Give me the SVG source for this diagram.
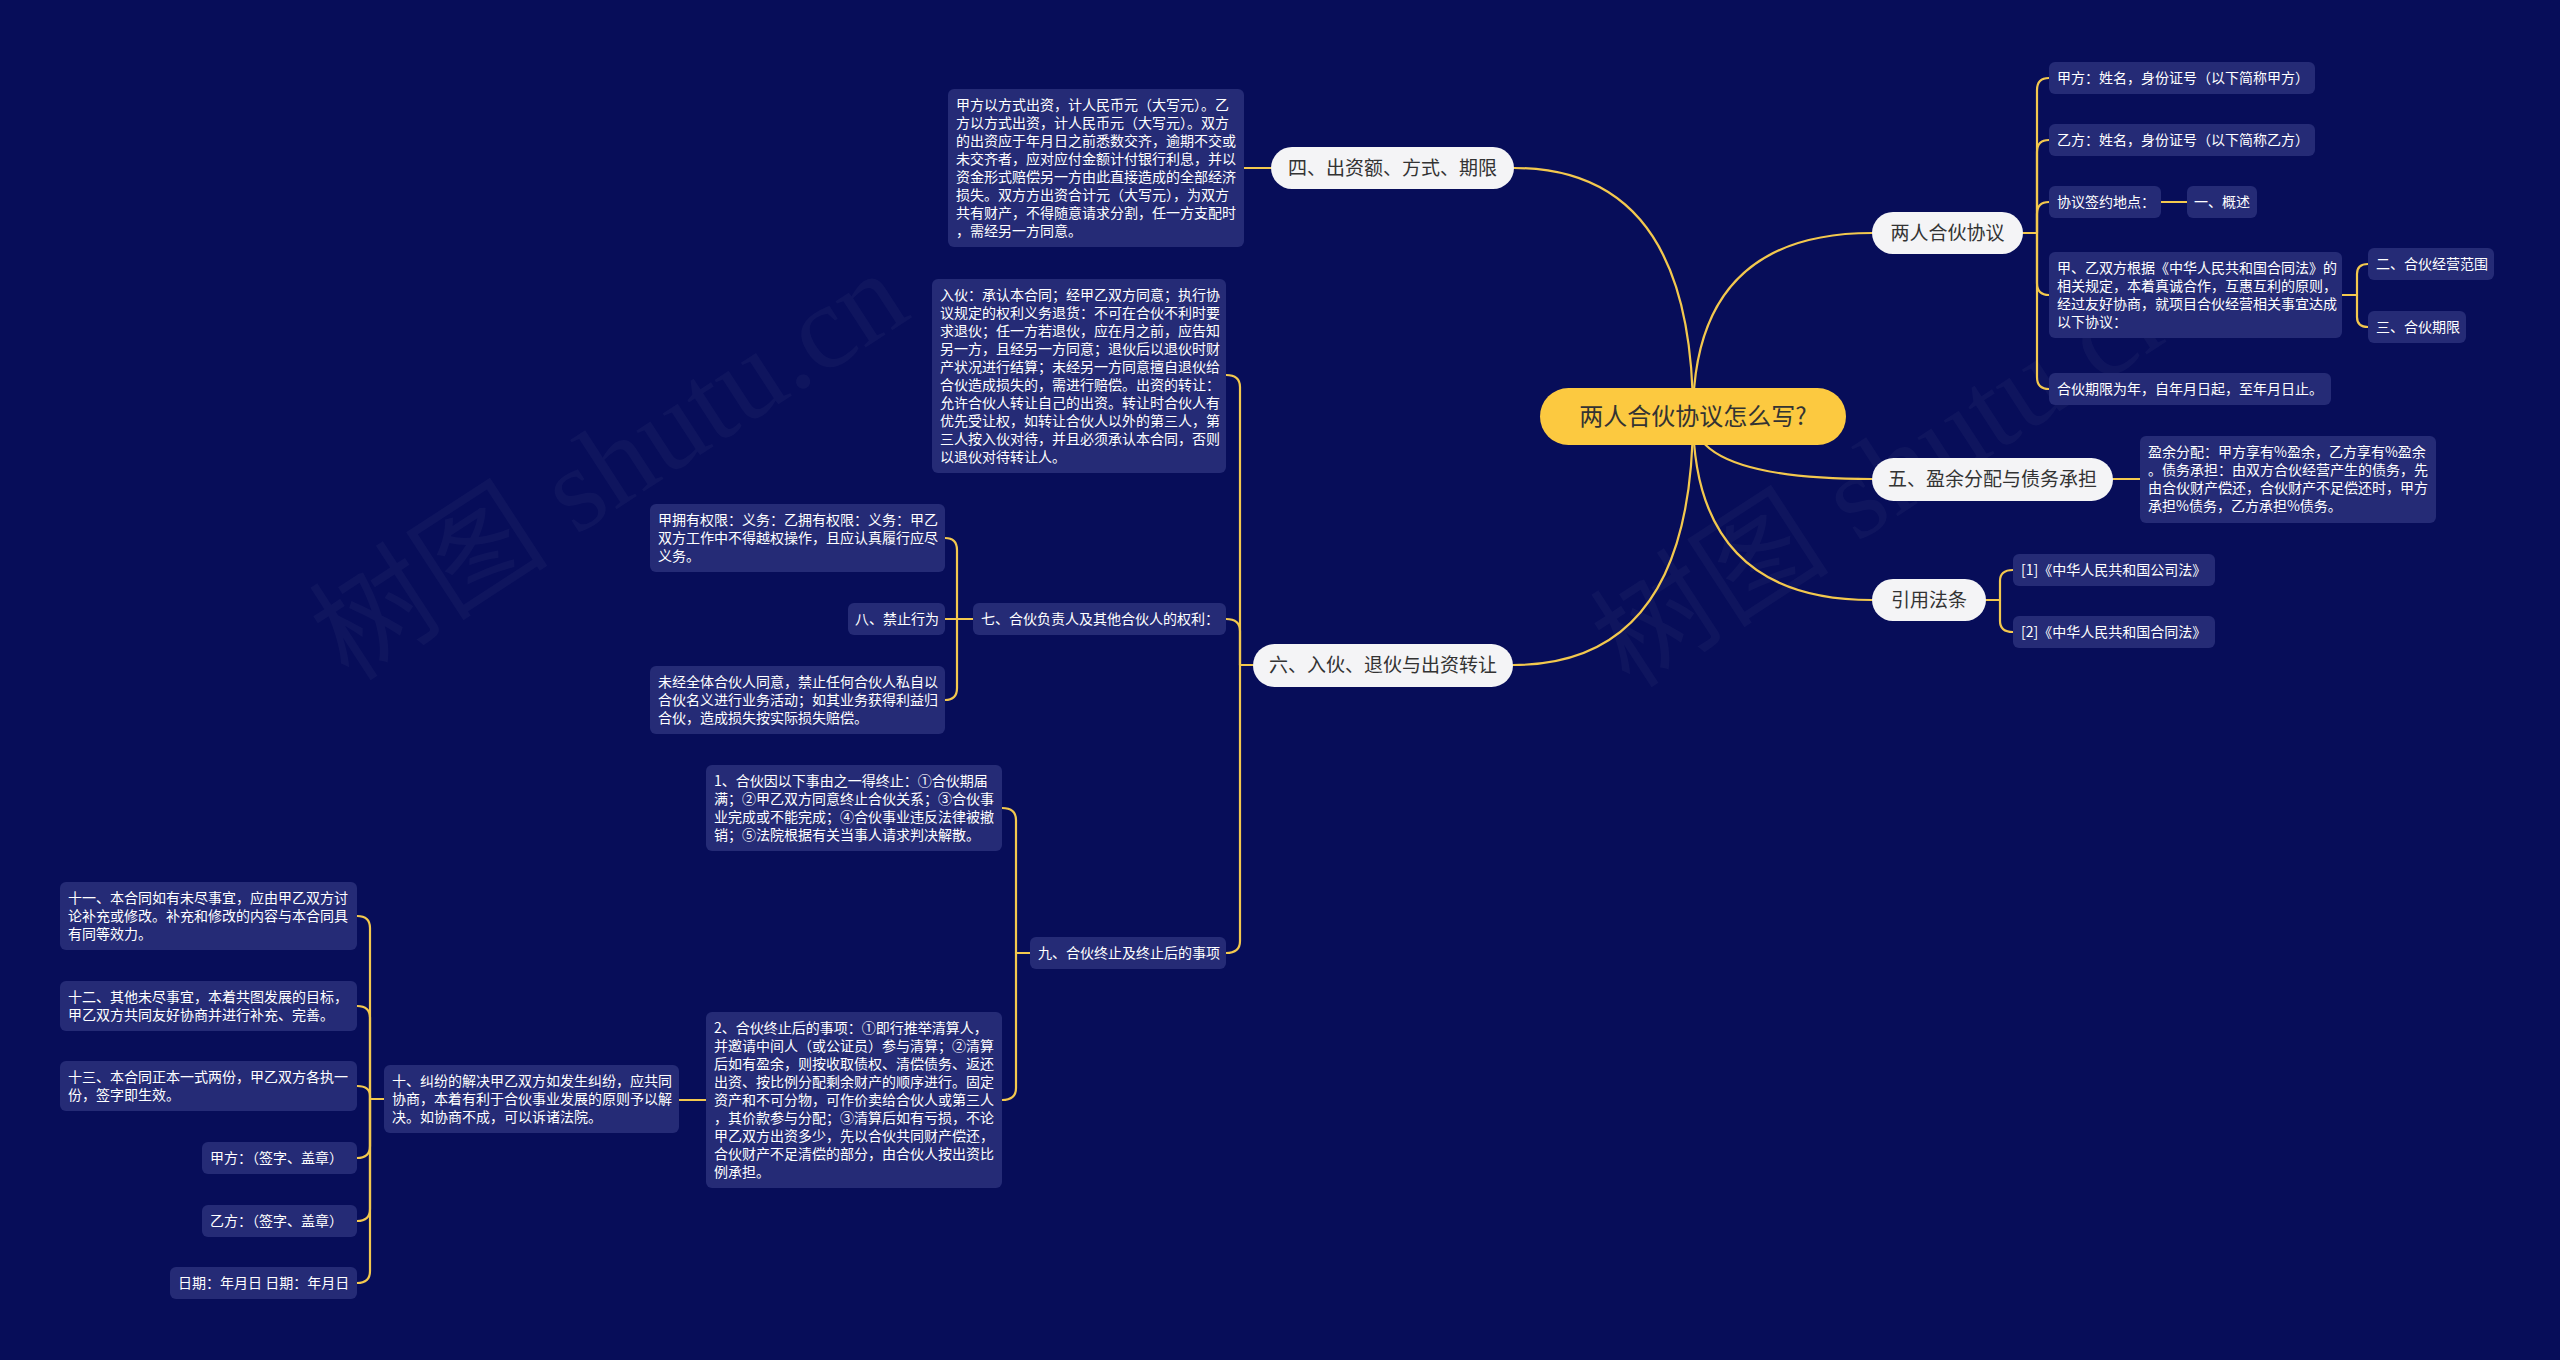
<svg xmlns="http://www.w3.org/2000/svg" width="2560" height="1360" viewBox="0 0 2560 1360">
<style>
.box{fill:#252B76}
.t{fill:#FFFFFF;font-family:"Noto Sans CJK SC","Noto Sans",sans-serif;font-size:14px}
.pill{fill:#F4F4F6}
.pt{fill:#333333;font-family:"Noto Sans CJK SC","Noto Sans",sans-serif;font-size:19px;text-anchor:middle}
.root{fill:#FCC940}
.rt{fill:#333333;font-family:"Noto Sans CJK SC","Noto Sans",sans-serif;font-size:24px;text-anchor:middle}
.ln{fill:none;stroke:#F3C84E;stroke-width:2.2;stroke-linecap:round}
.wm{fill:#FFFFFF;fill-opacity:0.035;font-family:"Liberation Serif","Noto Sans CJK SC",serif;font-size:120px}
</style>
<rect x="0" y="0" width="2560" height="1360" fill="#070D59"/>
<g id="watermarks">
<text class="wm" x="349" y="683" transform="rotate(-33 349 683)">树图 shutu.cn</text>
<text class="wm" x="1630" y="690" transform="rotate(-33 1630 690)">树图 shutu.cn</text>
</g>
<g id="connectors">
<path class="ln" d="M1693 416 Q1693 168 1514 168"/>
<path class="ln" d="M1693 416 Q1693 233 1872 233"/>
<path class="ln" d="M1693 416 Q1693 479 1872 479"/>
<path class="ln" d="M1693 416 Q1693 600 1872 600"/>
<path class="ln" d="M1693 416 Q1693 665 1513 665"/>
<path class="ln" d="M2023 233 H2037"/>
<path class="ln" d="M2037 233 V90 Q2037 78 2049 78"/>
<path class="ln" d="M2037 233 V152 Q2037 140 2049 140"/>
<path class="ln" d="M2037 233 V214 Q2037 202 2049 202"/>
<path class="ln" d="M2037 233 V283 Q2037 295 2049 295"/>
<path class="ln" d="M2037 233 V377 Q2037 389 2049 389"/>
<path class="ln" d="M2161 202 H2187"/>
<path class="ln" d="M2342 295 H2357"/>
<path class="ln" d="M2357 295 V274 Q2357 264 2368 264"/>
<path class="ln" d="M2357 295 V317 Q2357 327 2368 327"/>
<path class="ln" d="M2113 479 H2140"/>
<path class="ln" d="M1986 600 H2000"/>
<path class="ln" d="M2000 600 V581 Q2000 570 2013 570"/>
<path class="ln" d="M2000 600 V621 Q2000 632 2013 632"/>
<path class="ln" d="M1271 168 H1244"/>
<path class="ln" d="M1253 665 H1240"/>
<path class="ln" d="M1240 665 V387 Q1240 375 1226 375"/>
<path class="ln" d="M1240 665 V631 Q1240 619 1226 619"/>
<path class="ln" d="M1240 665 V941 Q1240 953 1226 953"/>
<path class="ln" d="M973 619 H957"/>
<path class="ln" d="M957 619 V550 Q957 538 945 538"/>
<path class="ln" d="M957 619 H945"/>
<path class="ln" d="M957 619 V688 Q957 700 945 700"/>
<path class="ln" d="M1030 953 H1016"/>
<path class="ln" d="M1016 953 V820 Q1016 808 1002 808"/>
<path class="ln" d="M1016 953 V1088 Q1016 1100 1002 1100"/>
<path class="ln" d="M706 1100 H679"/>
<path class="ln" d="M384 1099 H370"/>
<path class="ln" d="M370 1099 V928 Q370 916 357 916"/>
<path class="ln" d="M370 1099 V1018 Q370 1006 357 1006"/>
<path class="ln" d="M370 1099 V1096 Q370 1086 357 1086"/>
<path class="ln" d="M370 1099 V1146 Q370 1158 357 1158"/>
<path class="ln" d="M370 1099 V1209 Q370 1221 357 1221"/>
<path class="ln" d="M370 1099 V1271 Q370 1283 357 1283"/>
</g>
<g id="root"><rect class="root" x="1540" y="388" width="306" height="57" rx="28.5"/><text class="rt" x="1693" y="425">两人合伙协议怎么写?</text></g>
<g id="n-xieyi"><rect class="pill" x="1872" y="212" width="151" height="42" rx="21"/><text class="pt" x="1947.5" y="240">两人合伙协议</text></g>
<g id="n-si"><rect class="pill" x="1271" y="147" width="243" height="42" rx="21"/><text class="pt" x="1392.5" y="175">四、出资额、方式、期限</text></g>
<g id="n-wu"><rect class="pill" x="1872" y="458" width="241" height="43" rx="21.5"/><text class="pt" x="1992.5" y="486">五、盈余分配与债务承担</text></g>
<g id="n-yinyong"><rect class="pill" x="1872" y="579" width="114" height="42" rx="21"/><text class="pt" x="1929" y="607">引用法条</text></g>
<g id="n-liu"><rect class="pill" x="1253" y="644" width="260" height="43" rx="21.5"/><text class="pt" x="1383" y="672">六、入伙、退伙与出资转让</text></g>
<g id="n-si-text"><rect class="box" x="948" y="89" width="296" height="158" rx="6"/><text class="t" x="956" y="110"><tspan x="956">甲方以方式出资，计人民币元（大写元）。乙</tspan><tspan x="956" dy="18">方以方式出资，计人民币元（大写元）。双方</tspan><tspan x="956" dy="18">的出资应于年月日之前悉数交齐，逾期不交或</tspan><tspan x="956" dy="18">未交齐者，应对应付金额计付银行利息，并以</tspan><tspan x="956" dy="18">资金形式赔偿另一方由此直接造成的全部经济</tspan><tspan x="956" dy="18">损失。双方方出资合计元（大写元），为双方</tspan><tspan x="956" dy="18">共有财产，不得随意请求分割，任一方支配时</tspan><tspan x="956" dy="18">，需经另一方同意。</tspan></text></g>
<g id="n-ruhuo"><rect class="box" x="932" y="279" width="294" height="194" rx="6"/><text class="t" x="940" y="300"><tspan x="940">入伙：承认本合同；经甲乙双方同意；执行协</tspan><tspan x="940" dy="18">议规定的权利义务退货：不可在合伙不利时要</tspan><tspan x="940" dy="18">求退伙；任一方若退伙，应在月之前，应告知</tspan><tspan x="940" dy="18">另一方，且经另一方同意；退伙后以退伙时财</tspan><tspan x="940" dy="18">产状况进行结算；未经另一方同意擅自退伙给</tspan><tspan x="940" dy="18">合伙造成损失的，需进行赔偿。出资的转让：</tspan><tspan x="940" dy="18">允许合伙人转让自己的出资。转让时合伙人有</tspan><tspan x="940" dy="18">优先受让权，如转让合伙人以外的第三人，第</tspan><tspan x="940" dy="18">三人按入伙对待，并且必须承认本合同，否则</tspan><tspan x="940" dy="18">以退伙对待转让人。</tspan></text></g>
<g id="n-jiafang"><rect class="box" x="2049" y="62" width="266" height="32" rx="6"/><text class="t" x="2057" y="83">甲方：姓名，身份证号（以下简称甲方）</text></g>
<g id="n-yifang"><rect class="box" x="2049" y="124" width="266" height="32" rx="6"/><text class="t" x="2057" y="145">乙方：姓名，身份证号（以下简称乙方）</text></g>
<g id="n-didian"><rect class="box" x="2049" y="186" width="112" height="32" rx="6"/><text class="t" x="2057" y="207">协议签约地点：</text></g>
<g id="n-gaishu"><rect class="box" x="2187" y="186" width="70" height="32" rx="6"/><text class="t" x="2194" y="207">一、概述</text></g>
<g id="n-genju"><rect class="box" x="2049" y="252" width="293" height="86" rx="6"/><text class="t" x="2057" y="273"><tspan x="2057">甲、乙双方根据《中华人民共和国合同法》的</tspan><tspan x="2057" dy="18">相关规定，本着真诚合作，互惠互利的原则，</tspan><tspan x="2057" dy="18">经过友好协商，就项目合伙经营相关事宜达成</tspan><tspan x="2057" dy="18">以下协议：</tspan></text></g>
<g id="n-fanwei"><rect class="box" x="2368" y="248" width="126" height="32" rx="6"/><text class="t" x="2376" y="269">二、合伙经营范围</text></g>
<g id="n-qixian"><rect class="box" x="2368" y="311" width="98" height="32" rx="6"/><text class="t" x="2376" y="332">三、合伙期限</text></g>
<g id="n-qixianwei"><rect class="box" x="2049" y="373" width="282" height="32" rx="6"/><text class="t" x="2057" y="394">合伙期限为年，自年月日起，至年月日止。</text></g>
<g id="n-wu-text"><rect class="box" x="2140" y="436" width="296" height="87" rx="6"/><text class="t" x="2148" y="457"><tspan x="2148">盈余分配：甲方享有%盈余，乙方享有%盈余</tspan><tspan x="2148" dy="18">。债务承担：由双方合伙经营产生的债务，先</tspan><tspan x="2148" dy="18">由合伙财产偿还，合伙财产不足偿还时，甲方</tspan><tspan x="2148" dy="18">承担%债务，乙方承担%债务。</tspan></text></g>
<g id="n-law1"><rect class="box" x="2013" y="554" width="202" height="32" rx="6"/><text class="t" x="2021" y="575">[1]《中华人民共和国公司法》</text></g>
<g id="n-law2"><rect class="box" x="2013" y="616" width="202" height="32" rx="6"/><text class="t" x="2021" y="637">[2]《中华人民共和国合同法》</text></g>
<g id="n-qi"><rect class="box" x="973" y="603" width="253" height="32" rx="6"/><text class="t" x="981" y="624">七、合伙负责人及其他合伙人的权利：</text></g>
<g id="n-quanxian"><rect class="box" x="650" y="504" width="295" height="68" rx="6"/><text class="t" x="658" y="525"><tspan x="658">甲拥有权限：义务：乙拥有权限：义务：甲乙</tspan><tspan x="658" dy="18">双方工作中不得越权操作，且应认真履行应尽</tspan><tspan x="658" dy="18">义务。</tspan></text></g>
<g id="n-ba"><rect class="box" x="848" y="603" width="97" height="32" rx="6"/><text class="t" x="855" y="624">八、禁止行为</text></g>
<g id="n-weijing"><rect class="box" x="650" y="666" width="295" height="68" rx="6"/><text class="t" x="658" y="687"><tspan x="658">未经全体合伙人同意，禁止任何合伙人私自以</tspan><tspan x="658" dy="18">合伙名义进行业务活动；如其业务获得利益归</tspan><tspan x="658" dy="18">合伙，造成损失按实际损失赔偿。</tspan></text></g>
<g id="n-jiu"><rect class="box" x="1030" y="937" width="196" height="32" rx="6"/><text class="t" x="1038" y="958">九、合伙终止及终止后的事项</text></g>
<g id="n-zhongzhi1"><rect class="box" x="706" y="765" width="296" height="86" rx="6"/><text class="t" x="714" y="786"><tspan x="714">1、合伙因以下事由之一得终止：①合伙期届</tspan><tspan x="714" dy="18">满；②甲乙双方同意终止合伙关系；③合伙事</tspan><tspan x="714" dy="18">业完成或不能完成；④合伙事业违反法律被撤</tspan><tspan x="714" dy="18">销；⑤法院根据有关当事人请求判决解散。</tspan></text></g>
<g id="n-zhongzhi2"><rect class="box" x="706" y="1012" width="296" height="176" rx="6"/><text class="t" x="714" y="1033"><tspan x="714">2、合伙终止后的事项：①即行推举清算人，</tspan><tspan x="714" dy="18">并邀请中间人（或公证员）参与清算；②清算</tspan><tspan x="714" dy="18">后如有盈余，则按收取债权、清偿债务、返还</tspan><tspan x="714" dy="18">出资、按比例分配剩余财产的顺序进行。固定</tspan><tspan x="714" dy="18">资产和不可分物，可作价卖给合伙人或第三人</tspan><tspan x="714" dy="18">，其价款参与分配；③清算后如有亏损，不论</tspan><tspan x="714" dy="18">甲乙双方出资多少，先以合伙共同财产偿还，</tspan><tspan x="714" dy="18">合伙财产不足清偿的部分，由合伙人按出资比</tspan><tspan x="714" dy="18">例承担。</tspan></text></g>
<g id="n-shi"><rect class="box" x="384" y="1065" width="295" height="68" rx="6"/><text class="t" x="392" y="1086"><tspan x="392">十、纠纷的解决甲乙双方如发生纠纷，应共同</tspan><tspan x="392" dy="18">协商，本着有利于合伙事业发展的原则予以解</tspan><tspan x="392" dy="18">决。如协商不成，可以诉诸法院。</tspan></text></g>
<g id="n-shiyi"><rect class="box" x="60" y="882" width="297" height="68" rx="6"/><text class="t" x="68" y="903"><tspan x="68">十一、本合同如有未尽事宜，应由甲乙双方讨</tspan><tspan x="68" dy="18">论补充或修改。补充和修改的内容与本合同具</tspan><tspan x="68" dy="18">有同等效力。</tspan></text></g>
<g id="n-shier"><rect class="box" x="60" y="981" width="297" height="50" rx="6"/><text class="t" x="68" y="1002"><tspan x="68">十二、其他未尽事宜，本着共图发展的目标，</tspan><tspan x="68" dy="18">甲乙双方共同友好协商并进行补充、完善。</tspan></text></g>
<g id="n-shisan"><rect class="box" x="60" y="1061" width="297" height="50" rx="6"/><text class="t" x="68" y="1082"><tspan x="68">十三、本合同正本一式两份，甲乙双方各执一</tspan><tspan x="68" dy="18">份，签字即生效。</tspan></text></g>
<g id="n-jiaqian"><rect class="box" x="202" y="1142" width="155" height="32" rx="6"/><text class="t" x="210" y="1163">甲方：（签字、盖章）</text></g>
<g id="n-yiqian"><rect class="box" x="202" y="1205" width="155" height="32" rx="6"/><text class="t" x="210" y="1226">乙方：（签字、盖章）</text></g>
<g id="n-riqi"><rect class="box" x="170" y="1267" width="187" height="32" rx="6"/><text class="t" x="178" y="1288">日期：年月日 日期：年月日</text></g>
</svg>
